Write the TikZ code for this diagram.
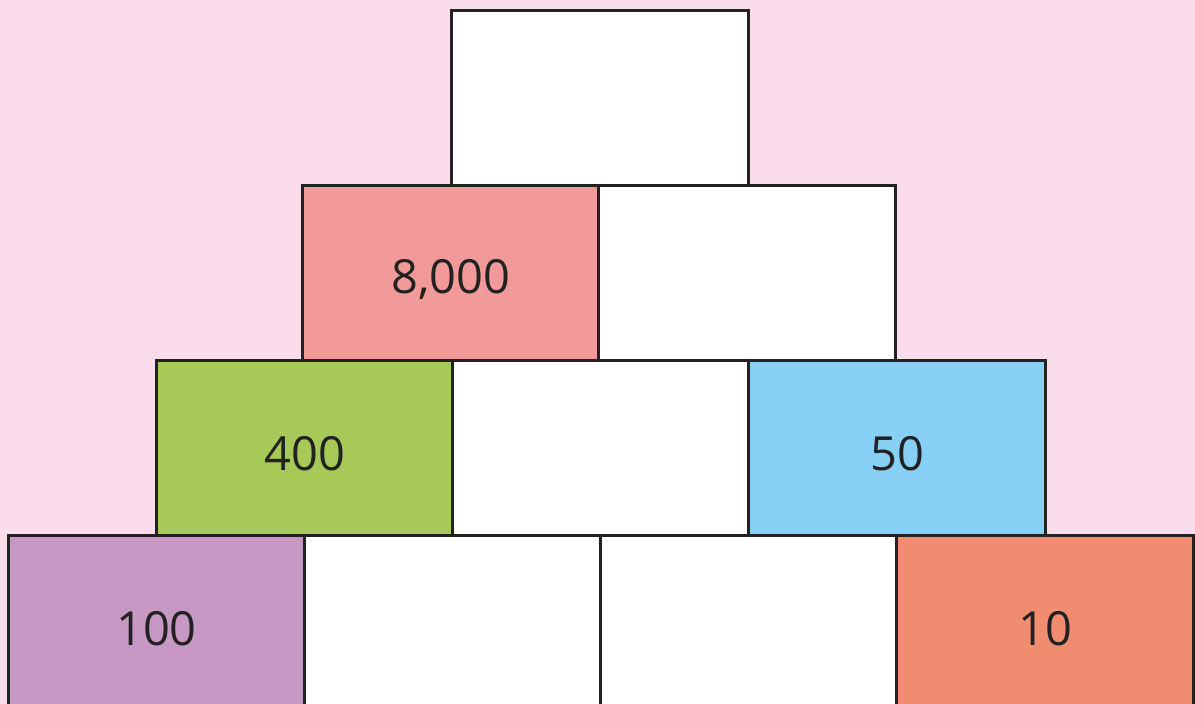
\documentclass[tikz,border=0pt]{standalone}
\usepackage{fontspec}
\setmainfont{Open Sans}
\definecolor{bg}{HTML}{FADCEA}
\definecolor{cpink}{HTML}{F29A9A}
\definecolor{cgreen}{HTML}{A7C957}
\definecolor{cblue}{HTML}{87CFF4}
\definecolor{cpurple}{HTML}{C798C4}
\definecolor{corange}{HTML}{F08C70}
\definecolor{edge}{HTML}{222222}
\begin{document}
\begin{tikzpicture}[x=1pt,y=-1pt,
  brick/.style={draw=edge,line width=3pt,minimum width=297pt,minimum height=175pt,inner sep=0pt,anchor=north west},
  num/.style={font=\fontsize{47}{50}\selectfont,text=edge,inner sep=0pt}]
\fill[bg] (0,0) rectangle (1195,704);
\useasboundingbox (0,0) rectangle (1195,704);
% bottom row
\node[brick,fill=cpurple] (b1) at (6.5,534) {};
\node[brick,fill=white] (b2) at (303,534) {};
\node[brick,fill=white] (b3) at (599,534) {};
\node[brick,fill=corange] (b4) at (895,534) {};
% third row
\node[brick,fill=cgreen] (c1) at (155,359) {};
\node[brick,fill=white] (c2) at (451,359) {};
\node[brick,fill=cblue] (c3) at (747,359) {};
% second row
\node[brick,fill=cpink] (d1) at (301,184) {};
\node[brick,fill=white] (d2) at (597,184) {};
% top
\node[brick,fill=white] (t) at (450,9) {};
% numbers
\node[num] (n1) at ([yshift=-6pt]b1.center) {100};
\node[num] (n2) at ([yshift=-6pt]b4.center) {10};
\node[num] (n3) at ([yshift=-6pt]c1.center) {400};
\node[num] (n4) at ([yshift=-6pt]c3.center) {50};
\node[num] (n5) at ([yshift=-6pt]d1.center) {8,000};
\end{tikzpicture}
\end{document}
